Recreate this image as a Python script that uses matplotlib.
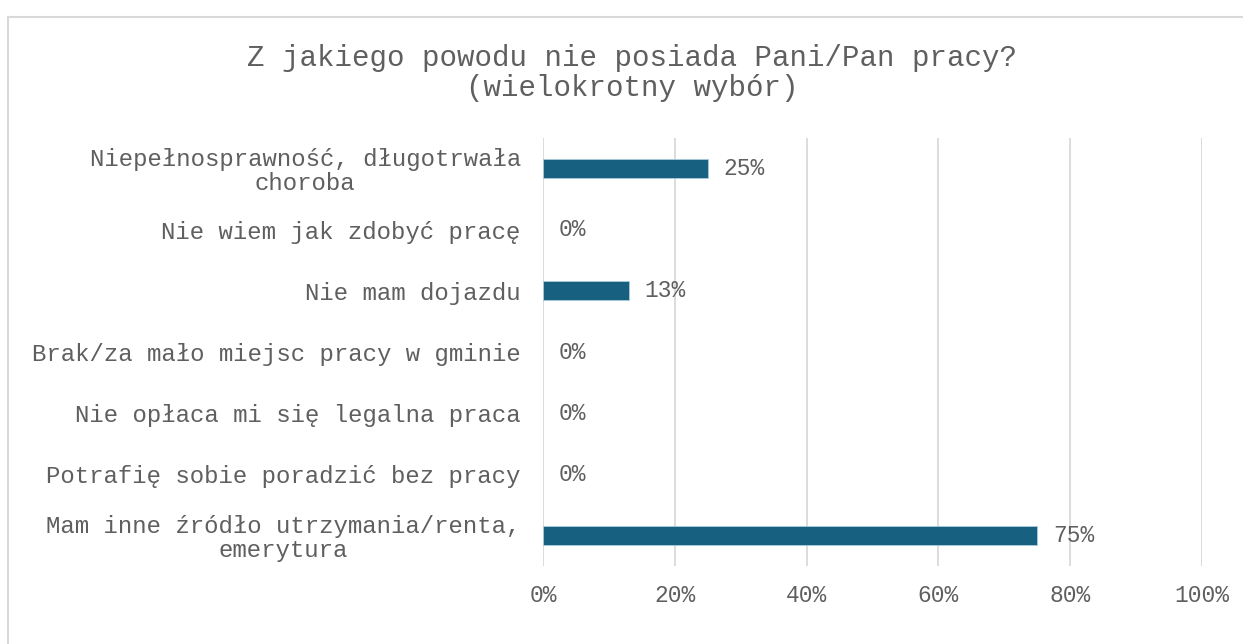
import matplotlib
matplotlib.use("Agg")
import matplotlib.pyplot as plt
from matplotlib.lines import Line2D

categories = [
    "Niepełnosprawność, długotrwała\nchoroba",
    "Nie wiem jak zdobyć pracę",
    "Nie mam dojazdu",
    "Brak/za mało miejsc pracy w gminie",
    "Nie opłaca mi się legalna praca",
    "Potrafię sobie poradzić bez pracy",
    "Mam inne źródło utrzymania/renta,\nemerytura",
]
values = [25, 0, 13, 0, 0, 0, 75]
value_labels = ["25%", "0%", "13%", "0%", "0%", "0%", "75%"]
xticks = [0, 20, 40, 60, 80, 100]
xtick_labels = ["0%", "20%", "40%", "60%", "80%", "100%"]
title = "Z jakiego powodu nie posiada Pani/Pan pracy?\n(wielokrotny wybór)"

FONT = ["Liberation Mono", "DejaVu Sans Mono"]
TXT = "#5f5f5f"
BAR = "#17607F"
GRID = "#D9D9D9"

W, H = 1243, 644
fig = plt.figure(figsize=(W / 100, H / 100), dpi=100)
fig.patch.set_facecolor("white")

# outer chart border (left and top visible)
fig.add_artist(Line2D([8 / W, 8 / W], [0, 1 - 17 / H], transform=fig.transFigure,
                      color="#D9D9D9", lw=1.5))
fig.add_artist(Line2D([8 / W, 1], [1 - 17 / H, 1 - 17 / H], transform=fig.transFigure,
                      color="#D9D9D9", lw=1.5))

ax = fig.add_axes([543 / W, 1 - 566 / H, (1202 - 543) / W, (566 - 138) / H])
ypos = list(range(len(categories)))
lws = [0.6 if v > 0 else 0 for v in values]
ax.barh(ypos, values, height=0.31, color=BAR, edgecolor="#A9CCE0", linewidth=lws, zorder=3)
ax.set_xlim(0, 100)
ax.set_ylim(len(categories) - 0.5, -0.5)

ax.set_xticks(xticks)
ax.set_xticklabels(xtick_labels, family=FONT, fontsize=16.5, color=TXT)
ax.set_yticks(ypos)
ax.set_yticklabels(categories, family=FONT, fontsize=17.3, color=TXT,
                   multialignment="center", linespacing=1.05)
ax.tick_params(axis="x", length=0, pad=13)
ax.tick_params(axis="y", length=0, pad=16)

ax.grid(axis="x", color=GRID, lw=1.3, zorder=0)
for s in ax.spines.values():
    s.set_visible(False)

for y, v, lab in zip(ypos, values, value_labels):
    ax.annotate(lab, (v, y), xytext=(11.5, 0), textcoords="offset points",
                ha="left", va="center", family=FONT, fontsize=16.5, color=TXT)

fig.text(632 / W, 1 - 73 / H, title, ha="center", va="center", family=FONT,
         fontsize=21, color=TXT, linespacing=1.12, multialignment="center")

fig.savefig("out.png", dpi=100, facecolor="white")
